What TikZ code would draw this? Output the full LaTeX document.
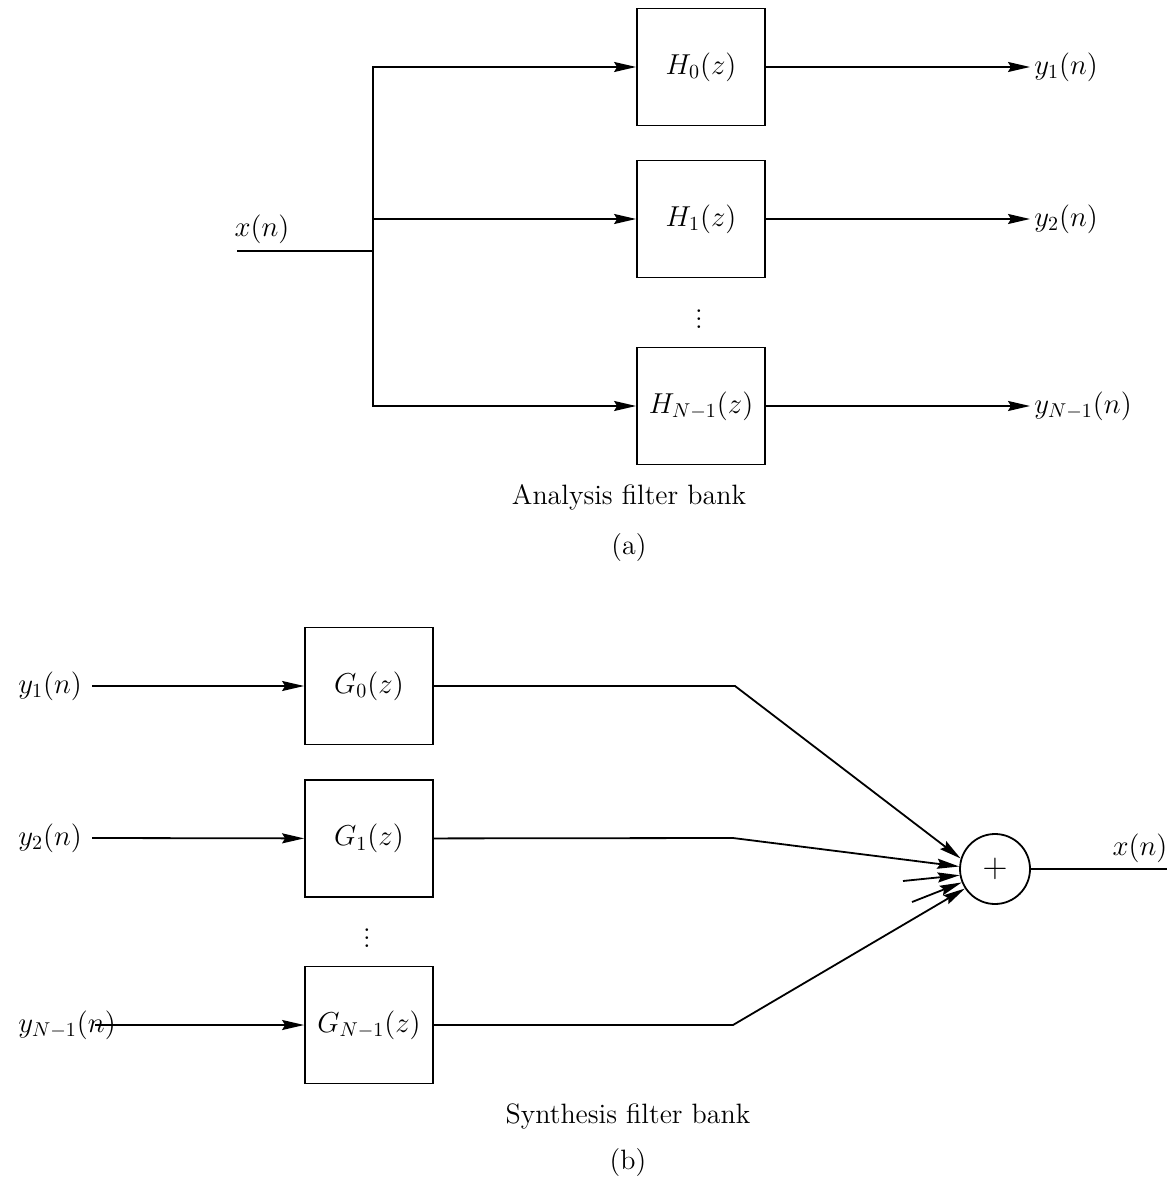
\documentclass[tikz,border=0pt]{standalone}
\usepackage{amsmath}
\usepackage{tikz}
\usetikzlibrary{arrows.meta}
\tikzset{
  filterbox/.style={draw=black,line width=0.9pt,minimum width=64pt,minimum height=58.5pt,inner sep=0pt},
  sumnode/.style={circle,draw=black,line width=0.9pt,minimum size=35pt,inner sep=0pt,
    font=\fontsize{18}{20}\selectfont},
  sig/.style={line width=0.9pt},
  sigarrow/.style={-{Stealth[length=11pt,width=5pt,inset=1.5pt]},line width=0.9pt},
  siglabel/.style={inner sep=2pt}
}

\begin{document}
\begin{tikzpicture}[x=0.5pt,y=-0.5pt,font=\fontsize{14}{17}\selectfont]
  \useasboundingbox (0,0) rectangle (1173,1181);

  % (a) analysis bank
  \node[filterbox] (h0) at (701,67)  {$H_0(z)$};
  \node[filterbox] (h1) at (701,219) {$H_1(z)$};
  \node[filterbox] (h2) at (701,406) {$H_{N-1}(z)$};
  \node (hd) at (699,313) {$\vdots$};
  \coordinate (xin)   at (237,251);
  \coordinate (split) at (373,251);
  \node[siglabel] (lxin) at (262,229) {$x(n)$};
  \node[siglabel,anchor=west] (y0) at (1030,67)  {$y_1(n)$};
  \node[siglabel,anchor=west] (y1) at (1030,219) {$y_2(n)$};
  \node[siglabel,anchor=west] (y2) at (1030,406) {$y_{N-1}(n)$};

  \draw[sig] (xin) -- (split);
  \draw[sigarrow] (split) |- (h0);
  \draw[sigarrow] (split) |- (h1);
  \draw[sigarrow] (split) |- (h2);
  \draw[sigarrow] (h0) -- (y0);
  \draw[sigarrow] (h1) -- (y1);
  \draw[sigarrow] (h2) -- (y2);

  \node (capa) at (629,497) {Analysis filter bank};
  \node (laba) at (629,548) {(a)};

  % (b) synthesis bank
  \node[filterbox] (g0) at (369,686)   {$G_0(z)$};
  \node[filterbox] (g1) at (369,838.5) {$G_1(z)$};
  \node[filterbox] (g2) at (369,1025)  {$G_{N-1}(z)$};
  \node (gd) at (367,932) {$\vdots$};
  \node[siglabel,anchor=west] (u0) at (14,686)  {$y_1(n)$};
  \node[siglabel,anchor=west] (u1) at (14,838)  {$y_2(n)$};
  \node[siglabel,anchor=west] (u2) at (14,1025) {$y_{N-1}(n)$};
  \coordinate (i0) at (92,686);
  \coordinate (i1) at (92,838);
  \coordinate (i2) at (95,1025);
  \coordinate (k0) at (735,686);
  \coordinate (k1) at (733,838);
  \coordinate (k2) at (733,1025);
  \node[sumnode] (sum) at (995,869) {$+$};
  \coordinate (s1) at (903,881);
  \coordinate (s2) at (912,902);
  \coordinate (xout) at (1167,869);
  \node[siglabel] (lxout) at (1140,848) {$x(n)$};

  \draw[sigarrow] (i0) -- (g0);
  \draw[sigarrow] (i1) -- (g1);
  \draw[sigarrow] (i2) -- (g2);
  \draw[sigarrow] (g0) -- (k0) -- (sum.163);
  \draw[sigarrow] (g1) -- (k1) -- (sum.176);
  \draw[sigarrow] (s1) -- (sum.190);
  \draw[sigarrow] (s2) -- (sum.202);
  \draw[sigarrow] (g2) -- (k2) -- (sum.213);
  \draw[sig] (sum) -- (xout);

  \node (capb) at (628,1116) {Synthesis filter bank};
  \node (labb) at (628,1162) {(b)};
\end{tikzpicture}
\end{document}
